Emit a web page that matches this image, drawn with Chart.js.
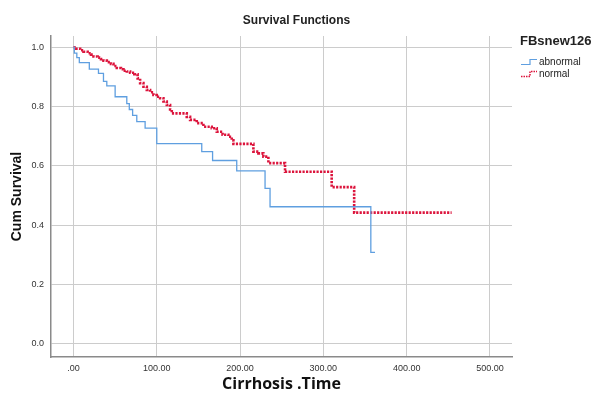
<!DOCTYPE html>
<html>
<head>
<meta charset="utf-8">
<title>Survival Functions</title>
<script src="https://cdn.jsdelivr.net/npm/chart.js@4.4.0/dist/chart.umd.min.js"></script>
<style>
  body { margin: 0; background: #fff; }
  #wrap { position: relative; width: 593px; height: 403px; }
  #legend { position: absolute; left: 520px; top: 33px; font-family: 'Liberation Sans', Arial, sans-serif; color: #222; }
  #legend .lg-title { font-weight: bold; font-size: 13px; margin-bottom: 8px; }
  #legend .lg-item { font-size: 10px; height: 12px; line-height: 12px; white-space: nowrap; }
  #legend svg { vertical-align: middle; margin-right: 1px; }
</style>
</head>
<body>
<div id="wrap">
  <canvas id="survivalChart"></canvas>
  <div id="legend">
    <div class="lg-title">FBsnew126</div>
    <div class="lg-item"><svg width="18" height="8"><polyline points="1,6.5 10,6.5 10,1.5 17,1.5" fill="none" stroke="#5f9fe0" stroke-width="1.2"/></svg>abnormal</div>
    <div class="lg-item"><svg width="18" height="8"><polyline points="1,6.5 10,6.5 10,1.5 17,1.5" fill="none" stroke="#dc143c" stroke-width="1.5" stroke-dasharray="1.5,1"/></svg>normal</div>
  </div>
</div>
<script>
// Kaplan-Meier steps (time, cumulative survival)
const abnTime = [0, 1, 4, 7, 19, 30, 36, 40, 50, 64, 67, 71, 76, 86, 100, 154, 167, 196, 230, 236, 357, 362];
const abnSurv = [1.0, 0.98, 0.965, 0.948, 0.926, 0.912, 0.885, 0.87, 0.833, 0.81, 0.79, 0.77, 0.749, 0.727, 0.675, 0.648, 0.618, 0.583, 0.524, 0.462, 0.308, 0.308];

const normTime = [0, 3, 8, 12, 17, 21, 24, 29, 33, 36, 40, 45, 48, 52, 57, 60, 64, 68, 73, 77, 80, 84, 88, 92, 96, 100, 104, 108, 112, 116, 118, 136, 140, 148, 156, 166, 172, 179, 186, 190, 192, 216, 222, 228, 234, 254, 310, 337, 454];
const normSurv = [1.0, 0.995, 0.99, 0.985, 0.98, 0.975, 0.969, 0.965, 0.96, 0.955, 0.95, 0.944, 0.937, 0.93, 0.926, 0.921, 0.918, 0.914, 0.909, 0.895, 0.879, 0.867, 0.856, 0.848, 0.839, 0.833, 0.828, 0.817, 0.805, 0.79, 0.777, 0.765, 0.755, 0.744, 0.732, 0.727, 0.715, 0.705, 0.698, 0.686, 0.674, 0.648, 0.642, 0.631, 0.609, 0.58, 0.528, 0.442, 0.442];

const xTicks = [0, 100, 200, 300, 400, 500];
const xTickLabels = ['.00', '100.00', '200.00', '300.00', '400.00', '500.00'];
const yTicks = [0, 0.2, 0.4, 0.6, 0.8, 1.0];
const yTickLabels = ['0.0', '0.2', '0.4', '0.6', '0.8', '1.0'];

const toPoints = (t, s) => t.map((v, i) => ({ x: v, y: s[i] }));

const ctx = document.getElementById('survivalChart').getContext('2d');
const survivalChart = new Chart(ctx, {
  type: 'line',
  data: {
    datasets: [
      {
        label: 'abnormal',
        data: toPoints(abnTime, abnSurv),
        borderColor: '#5f9fe0',
        borderWidth: 1.3,
        stepped: 'before',
        pointRadius: 0,
        fill: false,
      },
      {
        label: 'normal',
        data: toPoints(normTime, normSurv),
        borderColor: '#dc143c',
        borderWidth: 2.6,
        borderDash: [2.2, 1.3],
        stepped: 'before',
        pointRadius: 0,
        fill: false,
      },
    ],
  },
  options: {
    responsive: true,
    maintainAspectRatio: false,
    animation: false,
    layout: { padding: 0 },
    plugins: {
      legend: { display: false },
      tooltip: { enabled: false },
      title: {
        display: true,
        text: 'Survival Functions',
        color: '#222',
        font: { family: 'Liberation Sans', size: 12, weight: 'bold' },
        padding: { top: 13, bottom: 8.6 },
      },
    },
    scales: {
      x: {
        type: 'linear',
        min: -27,
        max: 526.5,
        afterBuildTicks: (scale) => { scale.ticks = xTicks.map(v => ({ value: v })); },
        afterFit: (scale) => { scale.height = 46; },
        grid: { color: '#cccccc', lineWidth: 1, drawTicks: false },
        border: { color: '#8a8a8a', width: 1.5 },
        ticks: {
          padding: 6,
          color: '#333',
          font: { family: 'Liberation Sans', size: 9 },
          maxRotation: 0,
          callback: (v) => xTickLabels[xTicks.indexOf(v)],
        },
        title: {
          display: true,
          text: 'Cirrhosis .Time',
          color: '#111',
          font: { family: 'Open Sans', size: 16, weight: 'bold' },
          padding: { top: 0, bottom: 9 },
        },
      },
      y: {
        min: -0.045,
        max: 1.038,
        afterBuildTicks: (scale) => { scale.ticks = yTicks.map(v => ({ value: v })); },
        afterFit: (scale) => { scale.width = 51; },
        grid: { color: '#cccccc', lineWidth: 1, drawTicks: false },
        border: { color: '#8a8a8a', width: 1.5 },
        ticks: {
          padding: 7,
          color: '#333',
          font: { family: 'Liberation Sans', size: 9 },
          callback: (v) => yTickLabels[yTicks.indexOf(v)],
        },
        title: {
          display: true,
          text: 'Cum Survival',
          color: '#111',
          font: { family: 'Liberation Sans', size: 14, weight: 'bold' },
          padding: { top: 9, bottom: 0 },
        },
      },
      // empty right-hand box that leaves room for the legend
      yRight: {
        position: 'right',
        display: true,
        afterFit: (scale) => { scale.width = 81; },
        grid: { display: false },
        border: { display: false },
        ticks: { display: false },
      },
    },
  },
});
</script>
</body>
</html>
